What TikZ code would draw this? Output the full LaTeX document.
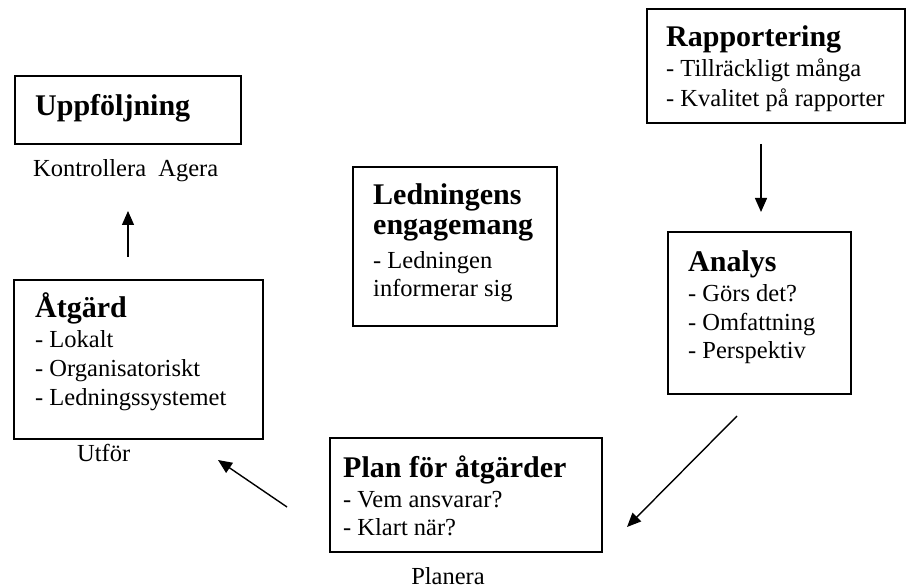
\documentclass[tikz,border=0pt]{standalone}
\usepackage{fontspec}
\setmainfont{Liberation Serif}
\usetikzlibrary{arrows.meta}

\tikzset{
  box/.style={draw=black, line width=1.6pt, rectangle},
  ttl/.style={anchor=base west, inner sep=0pt, font=\fontsize{30}{34}\selectfont\bfseries},
  txt/.style={anchor=base west, inner sep=0pt, font=\fontsize{24.5}{29}\selectfont},
  flow/.style={line width=1.4pt, -{Triangle[length=14pt,width=12pt]}}
}

\begin{document}
\begin{tikzpicture}[x=1pt,y=-1pt]
\useasboundingbox (0,0) rectangle (906,588);

% Uppföljning
\draw[box] (15,76) rectangle (241,144);
\node[ttl] (upp) at (35,116) {Uppföljning};
\node[txt] (kontroll) at (33,177) {Kontrollera~ Agera};

% Åtgärd
\draw[box] (14,280) rectangle (263,439);
\node[ttl] (atg) at (35,318) {Åtgärd};
\node[txt] (atg1) at (35,348) {- Lokalt};
\node[txt] (atg2) at (35,377) {- Organisatoriskt};
\node[txt] (atg3) at (35,406) {- Ledningssystemet};
\node[txt] (utfor) at (77,461) {Utför};

% Ledningens engagemang
\draw[box] (353,167) rectangle (557,326);
\node[ttl] (led1) at (373,205) {Ledningens};
\node[ttl] (led2) at (373,235) {engagemang};
\node[txt] (led3) at (373,269) {- Ledningen};
\node[txt] (led4) at (373,297) {informerar sig};

% Rapportering
\draw[box] (647,9) rectangle (905,123);
\node[ttl] (rap) at (666,47) {Rapportering};
\node[txt] (rap1) at (666,77) {- Tillräckligt många};
\node[txt] (rap2) at (666,107) {- Kvalitet på rapporter};

% Analys
\draw[box] (668,232) rectangle (851,394);
\node[ttl] (ana) at (688,272) {Analys};
\node[txt] (ana1) at (688,302) {- Görs det?};
\node[txt] (ana2) at (688,331) {- Omfattning};
\node[txt] (ana3) at (688,359) {- Perspektiv};

% Plan för åtgärder
\draw[box] (330,438) rectangle (602,552);
\node[ttl] (plan) at (343,477) {Plan för åtgärder};
\node[txt] (plan1) at (343,507) {- Vem ansvarar?};
\node[txt] (plan2) at (343,535) {- Klart när?};
\node[txt, anchor=base] (planera) at (448,584) {Planera};

% cycle arrows
\coordinate (a1s) at (761,144); \coordinate (a1e) at (761,212);
\coordinate (a2s) at (737,416); \coordinate (a2e) at (627,527);
\coordinate (a3s) at (287,507); \coordinate (a3e) at (218,460);
\coordinate (a4s) at (128,257); \coordinate (a4e) at (128,211);
\draw[flow] (a1s) -- (a1e);
\draw[flow] (a2s) -- (a2e);
\draw[flow] (a3s) -- (a3e);
\draw[flow] (a4s) -- (a4e);
\end{tikzpicture}
\end{document}
